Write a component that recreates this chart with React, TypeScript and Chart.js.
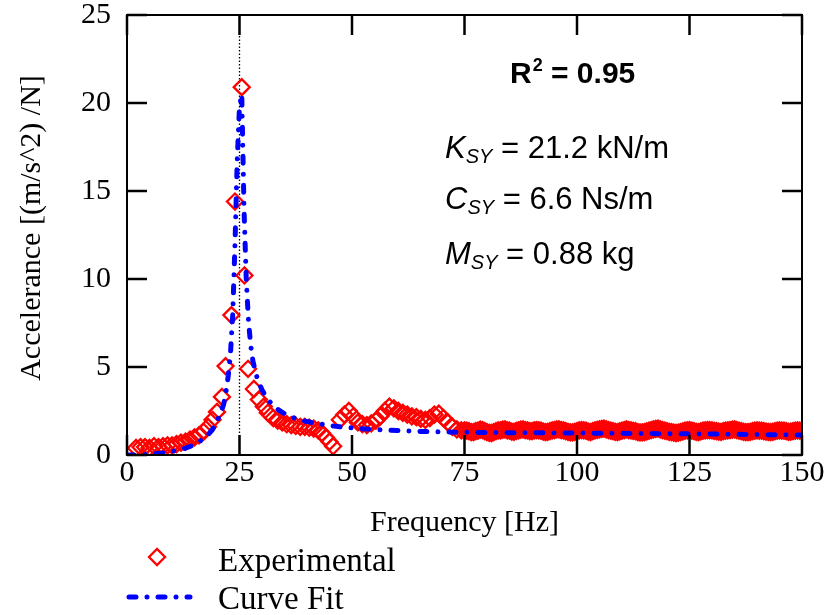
import React, { useEffect, useRef } from 'react';
import { Chart, registerables } from 'chart.js';

Chart.register(...registerables);

// ---------- data ----------
const expFreq = [
  2, 3, 4, 5, 6, 7, 8, 9, 10, 11, 12, 13, 14, 15, 16, 17, 18, 19, 20,
  21.1, 21.9, 23.2, 24.0, 25.5, 26.1, 26.9, 28.2, 29.3, 30.4, 31.3, 32.5,
  33.5, 34.5, 35.5, 36.5, 37.5, 38.5, 39.5, 40.5, 41.5, 42.5, 43.3, 44.2,
  45.0, 45.8, 47.3, 48.3, 49.3, 50.3, 51.3, 52.3, 53.3, 54.3, 55.3, 56.3,
  57.3, 58.3, 59.3, 60.3, 61.3, 62.3, 63.3, 64.3, 65.3, 66.3, 67.3, 68.3,
  69.3, 70.3, 71.3, 72.3, 73.3, 74.3,
  75, 75.5, 76, 76.5, 77, 77.5, 78, 78.5, 79, 79.5, 80, 80.5, 81, 81.5,
  82, 82.5, 83, 83.5, 84, 84.5, 85, 85.5, 86, 86.5, 87, 87.5, 88, 88.5,
  89, 89.5, 90, 90.5, 91, 91.5, 92, 92.5, 93, 93.5, 94, 94.5, 95, 95.5,
  96, 96.5, 97, 97.5, 98, 98.5, 99, 99.5, 100, 100.5, 101, 101.5, 102,
  102.5, 103, 103.5, 104, 104.5, 105, 105.5, 106, 106.5, 107, 107.5, 108,
  108.5, 109, 109.5, 110, 110.5, 111, 111.5, 112, 112.5, 113, 113.5, 114,
  114.5, 115, 115.5, 116, 116.5, 117, 117.5, 118, 118.5, 119, 119.5, 120,
  120.5, 121, 121.5, 122, 122.5, 123, 123.5, 124, 124.5, 125, 125.5, 126,
  126.5, 127, 127.5, 128, 128.5, 129, 129.5, 130, 130.5, 131, 131.5, 132,
  132.5, 133, 133.5, 134, 134.5, 135, 135.5, 136, 136.5, 137, 137.5, 138,
  138.5, 139, 139.5, 140, 140.5, 141, 141.5, 142, 142.5, 143, 143.5, 144,
  144.5, 145, 145.5, 146, 146.5, 147, 147.5, 148, 148.5, 149, 149.5, 150,
];
const expAcc = [
  0.4, 0.45, 0.45, 0.4, 0.5, 0.45, 0.5, 0.55, 0.55, 0.62, 0.7, 0.76, 0.88,
  1.0, 1.12, 1.32, 1.6, 2.0, 2.45,
  3.3, 5.05, 7.95, 14.4, 20.9, 10.2, 4.9, 3.75, 3.15, 2.75, 2.4, 2.1,
  1.95, 1.85, 1.75, 1.7, 1.65, 1.6, 1.6, 1.55, 1.5, 1.4, 1.25, 1.0,
  0.75, 0.5, 2.0, 2.3, 2.5, 2.2, 1.85, 1.75, 1.7, 1.8, 1.95, 2.2,
  2.5, 2.75, 2.65, 2.5, 2.4, 2.3, 2.2, 2.15, 2.05, 2.0, 2.1, 2.3,
  2.35, 2.1, 1.85, 1.6, 1.45, 1.4,
  1.4, 1.38, 1.35, 1.3, 1.3, 1.36, 1.38, 1.44, 1.42, 1.35, 1.3, 1.26, 1.25, 1.3,
  1.35, 1.4, 1.4, 1.44, 1.45, 1.4, 1.38, 1.33, 1.32, 1.37, 1.4, 1.44, 1.45, 1.42,
  1.4, 1.36, 1.35, 1.4, 1.42, 1.4, 1.38, 1.33, 1.3, 1.32, 1.35, 1.4, 1.42, 1.45,
  1.45, 1.42, 1.4, 1.35, 1.32, 1.28, 1.28, 1.32, 1.35, 1.4, 1.42, 1.4, 1.38,
  1.33, 1.3, 1.35, 1.4, 1.43, 1.45, 1.48, 1.5, 1.45, 1.42, 1.38, 1.35,
  1.32, 1.3, 1.34, 1.38, 1.42, 1.45, 1.42, 1.4, 1.37, 1.35, 1.3, 1.28,
  1.28, 1.3, 1.34, 1.38, 1.42, 1.45, 1.48, 1.5, 1.45, 1.42, 1.38, 1.35,
  1.32, 1.3, 1.27, 1.25, 1.27, 1.3, 1.34, 1.38, 1.4, 1.42, 1.38, 1.35,
  1.32, 1.3, 1.34, 1.38, 1.4, 1.42, 1.41, 1.4, 1.37, 1.35, 1.33, 1.32,
  1.35, 1.38, 1.4, 1.42, 1.44, 1.45, 1.42, 1.38, 1.35, 1.32, 1.3, 1.3,
  1.32, 1.35, 1.38, 1.4, 1.39, 1.38, 1.35, 1.33, 1.31, 1.3, 1.32, 1.35,
  1.38, 1.4, 1.39, 1.38, 1.35, 1.32, 1.33, 1.35, 1.38, 1.4, 1.39, 1.38,
];

const fitFreq = [
  0, 1, 2, 3, 4, 5, 6, 7, 8, 9, 10, 11, 12, 13, 14, 15, 16, 17, 18, 19, 20,
  21, 21.5, 22, 22.5, 23, 23.5, 24, 24.5, 25, 25.5, 26, 26.5, 27, 27.5, 28,
  29, 30, 31, 32, 33, 34, 35, 36, 37, 38, 39, 40, 42, 44, 46, 48, 50, 52,
  55, 58, 60, 65, 70, 75, 80, 90, 100, 110, 120, 130, 140, 150,
];
const fitAcc = [
  0, 0.0, 0.01, 0.02, 0.03, 0.05, 0.07, 0.09, 0.12, 0.16, 0.2, 0.26, 0.32,
  0.39, 0.48, 0.6, 0.75, 0.93, 1.15, 1.45, 1.9,
  2.5, 2.9, 3.6, 4.5, 5.8, 8.0, 12.0, 16.8, 19.8, 20.5, 14.0, 10.0, 7.6, 6.2,
  5.3, 4.3, 3.7, 3.25, 2.95, 2.7, 2.5, 2.35, 2.22, 2.12, 2.03, 1.96, 1.9,
  1.8, 1.72, 1.64, 1.58, 1.54, 1.5, 1.45, 1.41, 1.39, 1.34, 1.31, 1.29, 1.28,
  1.26, 1.25, 1.23, 1.21, 1.19, 1.16, 1.14,
];

const xMin = 0;
const xMax = 150;
const xStep = 25;
const yMin = 0;
const yMax = 25;
const yStep = 5;
const resonanceFreq = 25;

const xTitle = 'Frequency [Hz]';
const yTitle = 'Accelerance [(m/s^2) /N]';
const seriesNames = ['Experimental', 'Curve Fit'];
const r2Text = ['R', '2', ' = 0.95'];
const paramLines = [
  ['K', 'SY', ' = 21.2 kN/m'],
  ['C', 'SY', ' = 6.6 Ns/m'],
  ['M', 'SY', ' = 0.88 kg'],
];

// ---------- styles ----------
const SERIF = "'Liberation Serif', 'Times New Roman', serif";
const SANS = "'Liberation Sans', Arial, sans-serif";
const RED = '#ff0000';
const BLUE = '#0000ff';
const FIT_WIDTH = 5;
const FIT_DASH = [7, 11, 0.01, 11];
const DIAMOND_R = 8;
const DIAMOND_W = 2.3;

function drawDiamond(ctx: CanvasRenderingContext2D, x: number, y: number, r: number) {
  ctx.beginPath();
  ctx.moveTo(x - r, y);
  ctx.lineTo(x, y - r);
  ctx.lineTo(x + r, y);
  ctx.lineTo(x, y + r);
  ctx.closePath();
  ctx.strokeStyle = RED;
  ctx.lineWidth = DIAMOND_W;
  ctx.stroke();
}

const framePlugin = {
  id: 'frame',
  beforeDatasetsDraw(chart: any) {
    const { ctx, chartArea: a, scales } = chart;
    const px = scales.x.getPixelForValue(resonanceFreq);
    ctx.save();
    ctx.strokeStyle = '#000';
    ctx.lineWidth = 1.3;
    ctx.setLineDash([1.5, 2]);
    ctx.beginPath();
    ctx.moveTo(px, a.top);
    ctx.lineTo(px, a.bottom);
    ctx.stroke();
    ctx.restore();
  },
  afterDraw(chart: any) {
    const { ctx, chartArea: a, scales } = chart;
    const xs = scales.x;
    const ys = scales.y;
    ctx.save();
    ctx.setLineDash([]);
    ctx.strokeStyle = '#000';
    ctx.lineWidth = 2;
    ctx.strokeRect(a.left, a.top, a.right - a.left, a.bottom - a.top);
    const TL = 20;
    ctx.lineWidth = 2.5;
    const seg = (x1: number, y1: number, x2: number, y2: number) => {
      ctx.beginPath();
      ctx.moveTo(x1, y1);
      ctx.lineTo(x2, y2);
      ctx.stroke();
    };
    xs.ticks.forEach((t: any) => {
      const p = xs.getPixelForValue(t.value);
      seg(p, a.bottom, p, a.bottom - TL);
      seg(p, a.top, p, a.top + TL);
    });
    ys.ticks.forEach((t: any) => {
      const p = ys.getPixelForValue(t.value);
      seg(a.left, p, a.left + TL, p);
      seg(a.right, p, a.right - TL, p);
    });

    // y axis title
    ctx.fillStyle = '#000';
    ctx.save();
    ctx.translate(32, 228);
    ctx.rotate(-Math.PI / 2);
    ctx.font = `30px ${SERIF}`;
    ctx.textAlign = 'center';
    ctx.textBaseline = 'middle';
    ctx.fillText(yTitle, 0, 0);
    ctx.restore();

    // annotation: R^2
    ctx.textBaseline = 'alphabetic';
    ctx.textAlign = 'left';
    let x = 510;
    const base = 83;
    ctx.font = `bold 30px ${SANS}`;
    ctx.fillText(r2Text[0], x, base);
    x += ctx.measureText(r2Text[0]).width;
    ctx.font = `bold 18px ${SANS}`;
    ctx.fillText(r2Text[1], x + 1, base - 12);
    x += ctx.measureText(r2Text[1]).width + 1;
    ctx.font = `bold 30px ${SANS}`;
    ctx.fillText(r2Text[2], x, base);

    // parameter lines
    const baselines = [158, 209, 264];
    paramLines.forEach((p, i) => {
      let px = 445;
      const b = baselines[i];
      ctx.font = `italic 31px ${SANS}`;
      ctx.fillText(p[0], px, b);
      px += ctx.measureText(p[0]).width;
      ctx.font = `italic 20px ${SANS}`;
      ctx.fillText(p[1], px, b + 5);
      px += ctx.measureText(p[1]).width;
      ctx.font = `31px ${SANS}`;
      ctx.fillText(p[2], px, b);
    });

    // legend
    drawDiamond(ctx, 157, 557, DIAMOND_R);
    ctx.save();
    ctx.strokeStyle = BLUE;
    ctx.lineWidth = FIT_WIDTH;
    ctx.lineCap = 'round';
    ctx.setLineDash(FIT_DASH);
    ctx.beginPath();
    ctx.moveTo(129, 597);
    ctx.lineTo(190, 597);
    ctx.stroke();
    ctx.restore();
    ctx.fillStyle = '#000';
    ctx.font = `33px ${SERIF}`;
    ctx.fillText(seriesNames[0], 218, 571);
    ctx.fillText(seriesNames[1], 218, 609);
    ctx.restore();
  },
};

export default function App() {
  const ref = useRef<HTMLCanvasElement | null>(null);

  useEffect(() => {
    if (!ref.current) return;
    const expPoints = expFreq.map((f, i) => ({ x: f, y: expAcc[i] }));
    const fitPoints = fitFreq.map((f, i) => ({ x: f, y: fitAcc[i] }));
    const chart = new Chart(ref.current, {
      type: 'scatter',
      data: {
        datasets: [
          {
            label: seriesNames[1],
            data: fitPoints,
            showLine: true,
            borderColor: BLUE,
            borderWidth: FIT_WIDTH,
            borderDash: FIT_DASH,
            borderCapStyle: 'round',
            pointRadius: 0,
            tension: 0,
            fill: false,
            order: 0,
          } as any,
          {
            label: seriesNames[0],
            data: expPoints,
            showLine: false,
            pointStyle: 'rectRot',
            pointRadius: DIAMOND_R,
            pointBorderWidth: DIAMOND_W,
            pointBorderColor: RED,
            pointBackgroundColor: 'rgba(0,0,0,0)',
            order: 1,
          } as any,
        ],
      },
      options: {
        animation: false,
        responsive: false,
        devicePixelRatio: 1,
        events: [],
        layout: { padding: { left: 0, right: 29, top: 15, bottom: 70 } },
        plugins: {
          legend: { display: false },
          tooltip: { enabled: false },
        },
        scales: {
          x: {
            type: 'linear',
            min: xMin,
            max: xMax,
            grid: { display: false, drawTicks: false },
            border: { display: false },
            ticks: {
              stepSize: xStep,
              color: '#000',
              padding: 3,
              font: { family: SERIF, size: 30, lineHeight: 1 },
              maxRotation: 0,
            },
            title: {
              display: true,
              text: xTitle,
              color: '#000',
              font: { family: SERIF, size: 30, lineHeight: 1.2 },
              padding: { top: 0, bottom: 4 },
            },
            afterFit: (s: any) => {
              s.height = 90;
              s.paddingLeft = 0;
              s.paddingRight = 0;
            },
          },
          y: {
            type: 'linear',
            min: yMin,
            max: yMax,
            grid: { display: false, drawTicks: false },
            border: { display: false },
            ticks: {
              stepSize: yStep,
              color: '#000',
              padding: 16,
              font: { family: SERIF, size: 30, lineHeight: 1 },
            },
            title: { display: false },
            afterFit: (s: any) => {
              s.width = 127;
              s.paddingTop = 0;
              s.paddingBottom = 0;
            },
          },
        },
      } as any,
      plugins: [framePlugin],
    });
    return () => chart.destroy();
  }, []);

  return (
    <div style={{ position: 'absolute', left: 0, top: 0, width: 831, height: 615, background: '#fff' }}>
      <canvas ref={ref} width={831} height={615} style={{ display: 'block' }} />
    </div>
  );
}
